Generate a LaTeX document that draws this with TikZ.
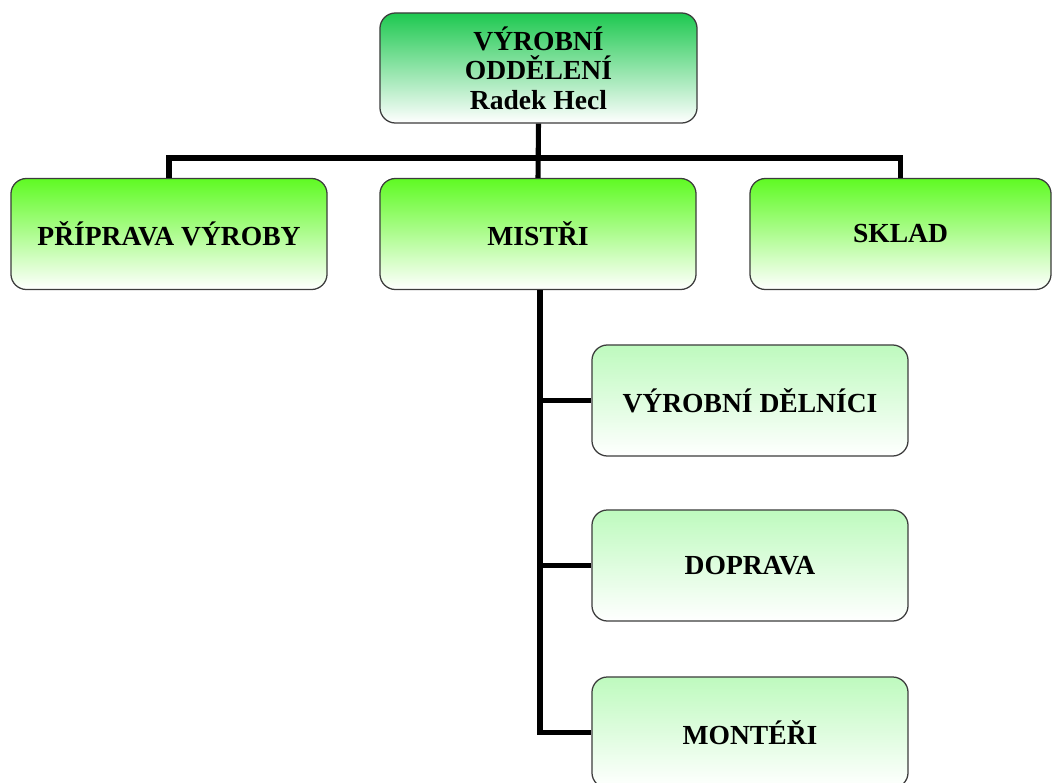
\documentclass[tikz,border=0pt]{standalone}
\usepackage{fontspec}
\setmainfont{Liberation Serif}
\usepackage{tikz}
\usetikzlibrary{positioning,calc}
\definecolor{headGreen}{RGB}{30, 200, 80}
\definecolor{limeGreen}{RGB}{95, 250, 35}
\definecolor{paleGreen}{RGB}{190, 250, 190}
\definecolor{edgeGrey}{RGB}{60, 60, 60}

\begin{document}
\begin{tikzpicture}[
        x=0.025cm, y=-0.025cm,
        box/.style={rectangle, draw=edgeGrey, line width=0.9pt, rounded corners=11pt, minimum width=7.9cm, minimum height=2.775cm, align=center, font=\fontsize{19.6}{21}\selectfont\bfseries, bottom color=white},
        head/.style={box, top color=headGreen, minimum width=7.925cm, minimum height=2.75cm},
        unit/.style={box, top color=limeGreen},
        sub/.style={box, top color=paleGreen},
        conn/.style={line width=3.6pt, black},
    ]
        \useasboundingbox (0,0) rectangle (1053,783);
        \clip (0,0) rectangle (1053,783);

        % Head of department
        \node[head] (vedouci) at (538.5,68) {VÝROBNÍ\\ODDĚLENÍ\\Radek Hecl};

        % Second level
        \node[unit] (priprava) at (169,234) {PŘÍPRAVA VÝROBY};
        \node[unit] (mistri) at (538,234) {MISTŘI};
        \node[unit, minimum width=7.525cm] (sklad) at (900.5,234) {SKLAD};

        % Under the foremen
        \node[sub] (delnici) at (750,400.5) {VÝROBNÍ DĚLNÍCI};
        \node[sub] (doprava) at (750,565.5) {DOPRAVA};
        \node[sub] (montazni) at (750,732.5) {MONTÉŘI};

        % Connectors
        \coordinate (bus) at (538,158);
        \draw[conn] (vedouci.south) -- (mistri.north);
        \draw[conn] (priprava.north) -- (priprava.north |- bus) -- (sklad.north |- bus) -- (sklad.north);
        \coordinate (trunk) at (540,0);
        \draw[conn] (mistri.south -| trunk) -- (trunk |- montazni.west) -- (montazni.west);
        \foreach \node in {delnici, doprava} {
            \draw[conn] (trunk |- \node.west) -- (\node.west);
        }

    \end{tikzpicture}
\end{document}
